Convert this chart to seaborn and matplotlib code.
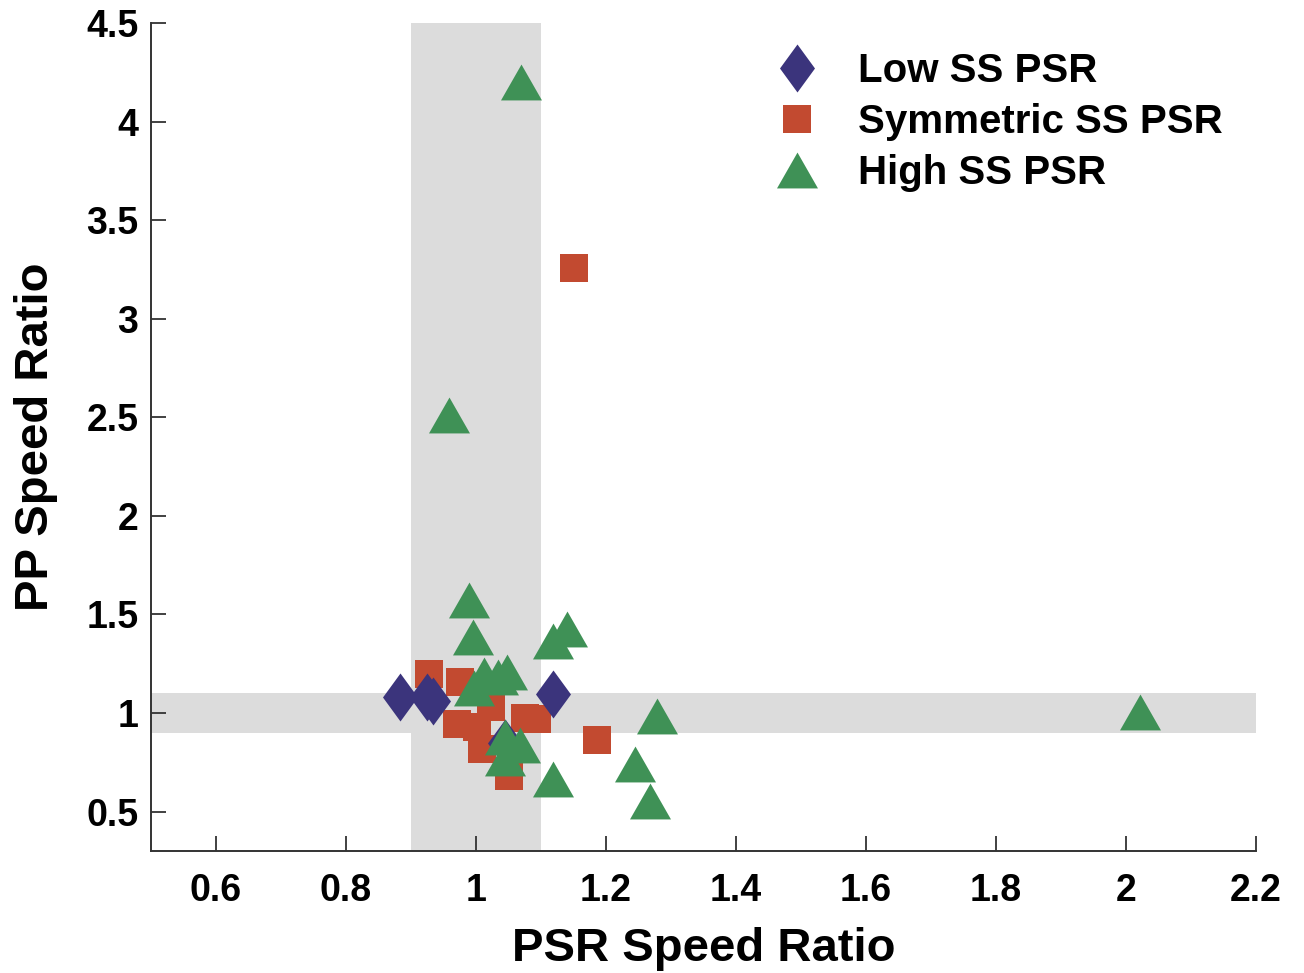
import numpy as np
import pandas as pd
import matplotlib
matplotlib.use("Agg")
import matplotlib.pyplot as plt
from matplotlib.path import Path
from matplotlib.lines import Line2D
import seaborn as sns

# ---- data ----
low_x = [0.883, 0.924, 0.934, 1.119, 1.045]
low_y = [1.080, 1.080, 1.060, 1.095, 0.850]

sym_x = [0.928, 0.975, 0.971, 1.023, 1.002, 1.010, 1.051, 1.076, 1.094, 1.186, 1.151]
sym_y = [1.196, 1.155, 0.944, 1.029, 0.927, 0.817, 0.682, 0.973, 0.970, 0.863, 3.257]

high_x = [1.069, 0.958, 0.990, 0.996, 1.119, 1.140, 0.997, 1.012, 1.034, 1.048,
          1.044, 1.068, 1.045, 1.119, 1.278, 1.245, 1.268, 2.022]
high_y = [4.200, 2.510, 1.573, 1.384, 1.367, 1.424, 1.129, 1.194, 1.184, 1.207,
          0.876, 0.839, 0.772, 0.665, 0.986, 0.741, 0.555, 1.005]

labels = ["Low SS PSR", "Symmetric SS PSR", "High SS PSR"]
x_ticks = [0.6, 0.8, 1, 1.2, 1.4, 1.6, 1.8, 2, 2.2]
y_ticks = [0.5, 1, 1.5, 2, 2.5, 3, 3.5, 4, 4.5]
x_tick_labels = ["0.6", "0.8", "1", "1.2", "1.4", "1.6", "1.8", "2", "2.2"]
y_tick_labels = ["0.5", "1", "1.5", "2", "2.5", "3", "3.5", "4", "4.5"]

# ---- style ----
sns.set_style("white")
plt.rcParams["font.family"] = ["Liberation Sans", "DejaVu Sans"]
plt.rcParams["font.weight"] = "bold"
plt.rcParams["text.color"] = "black"
plt.rcParams["axes.labelcolor"] = "black"
plt.rcParams["xtick.color"] = "#333333"
plt.rcParams["ytick.color"] = "#333333"
plt.rcParams["xtick.labelcolor"] = "black"
plt.rcParams["ytick.labelcolor"] = "black"

c_low = "#3b347c"
c_sym = "#c24a30"
c_high = "#3f9156"
c_band = "#dcdcdc"

diamond = Path([(0, 24), (17.5, 0), (0, -24), (-17.5, 0), (0, 24)],
               [Path.MOVETO, Path.LINETO, Path.LINETO, Path.LINETO, Path.CLOSEPOLY])
triangle = Path([(0, 17.5), (-20, -17.5), (20, -17.5), (0, 17.5)],
                [Path.MOVETO, Path.LINETO, Path.LINETO, Path.CLOSEPOLY])

px2pt = 72 / 100.0
ms_d = 48 * px2pt
ms_s = 28 * px2pt
ms_t = 41 * px2pt

fig = plt.figure(figsize=(13.04, 9.73), dpi=100)
ax = fig.add_axes([151 / 1304, 1 - 851 / 973, (1256 - 151) / 1304, (851 - 23) / 973])

# shaded bands
ax.axvspan(0.9, 1.1, color=c_band, lw=0, zorder=0)
ax.axhspan(0.9, 1.1, color=c_band, lw=0, zorder=0)

df_low = pd.DataFrame({"x": low_x, "y": low_y})
df_sym = pd.DataFrame({"x": sym_x, "y": sym_y})
df_high = pd.DataFrame({"x": high_x, "y": high_y})

sns.scatterplot(data=df_sym, x="x", y="y", ax=ax, marker="s", s=ms_s ** 2,
                color=c_sym, linewidth=0, zorder=3)
sns.scatterplot(data=df_low, x="x", y="y", ax=ax, marker=diamond, s=ms_d ** 2,
                color=c_low, linewidth=0, zorder=4)
sns.scatterplot(data=df_high, x="x", y="y", ax=ax, marker=triangle, s=ms_t ** 2,
                color=c_high, linewidth=0, zorder=5)

ax.set_xlim(0.5, 2.2)
ax.set_ylim(0.3, 4.5)
ax.set_xticks(x_ticks)
ax.set_xticklabels(x_tick_labels)
ax.set_yticks(y_ticks)
ax.set_yticklabels(y_tick_labels)
ax.tick_params(axis="both", direction="in", length=11, width=1.3,
               bottom=True, left=True, top=False, right=False,
               labelsize=27)
ax.tick_params(axis="y", pad=9)
ax.tick_params(axis="x", pad=16)
for lab in ax.get_xticklabels() + ax.get_yticklabels():
    lab.set_fontweight("bold")

for side in ["top", "right"]:
    ax.spines[side].set_visible(False)
for side in ["left", "bottom"]:
    ax.spines[side].set_color("#333333")
    ax.spines[side].set_linewidth(1.4)

ax.set_xlabel("PSR Speed Ratio", fontsize=34, fontweight="bold", labelpad=13)
ax.set_ylabel("PP Speed Ratio", fontsize=34, fontweight="bold", labelpad=20)

handles = [
    Line2D([], [], linestyle="none", marker=diamond, markersize=ms_d, color=c_low, markeredgewidth=0),
    Line2D([], [], linestyle="none", marker="s", markersize=ms_s, color=c_sym, markeredgewidth=0),
    Line2D([], [], linestyle="none", marker=triangle, markersize=ms_t, color=c_high, markeredgewidth=0),
]
leg = ax.legend(handles, labels, loc="upper left", bbox_to_anchor=(751 / 1304, 1 - 36 / 973),
                bbox_transform=fig.transFigure, frameon=False, fontsize=29,
                handletextpad=0.75, labelspacing=0.32, borderaxespad=0, handlelength=1.5)
for t in leg.get_texts():
    t.set_fontweight("bold")
    t.set_color("black")

fig.savefig("out.png", dpi=100)
